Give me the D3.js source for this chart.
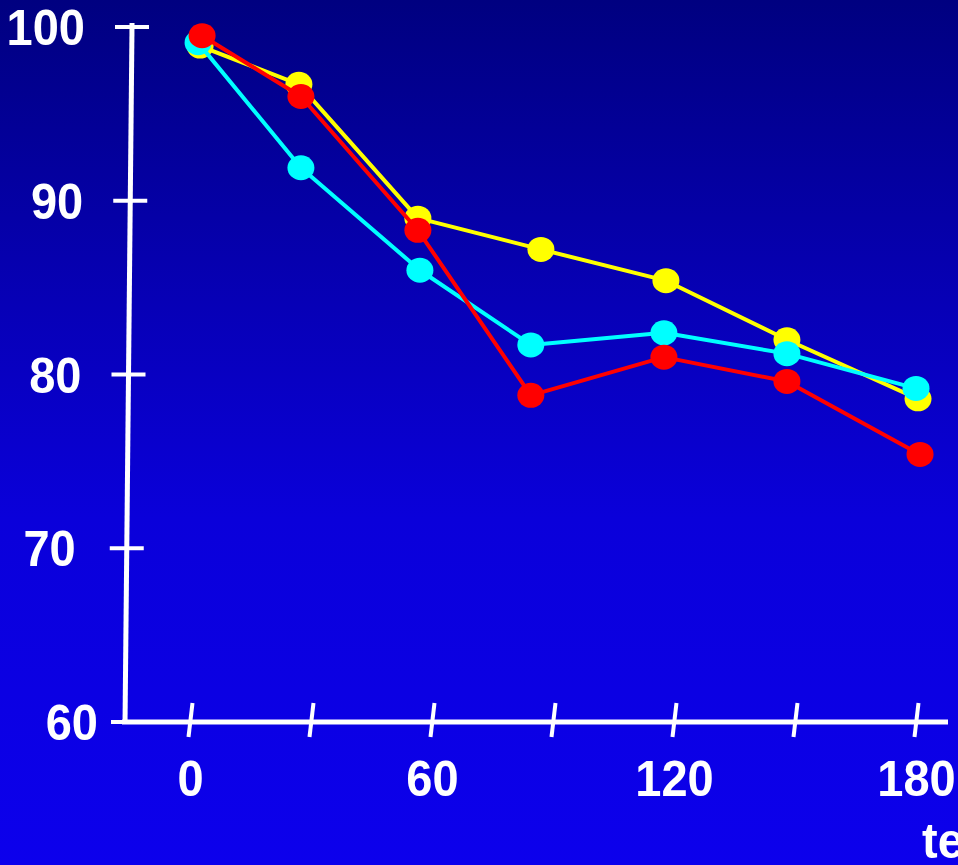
<!DOCTYPE html>
<html>
<head>
<meta charset="utf-8">
<script src="https://cdn.jsdelivr.net/npm/d3@7"></script>
<style>
  html, body { margin: 0; padding: 0; overflow: hidden; background: #0800c0; }
  svg { display: block; }
  text { font-family: "Liberation Sans", Arial, sans-serif; font-weight: bold; fill: #ffffff; }
</style>
</head>
<body>
<svg id="chart" width="958" height="865"></svg>
<script>
// ---- data ----
const xTicks = [0, 30, 60, 90, 120, 150, 180];
const xLabels = ["0", "", "60", "", "120", "", "180"];
const yTicks = [60, 70, 80, 90, 100];
const xTitle = "temps (min)";

const yellowTime = [2.5, 27, 56.5, 87, 118, 148, 180.5];
const yellowVals = [98.9, 96.7, 89.0, 87.2, 85.4, 82.0, 78.6];
const cyanTime   = [2, 27.5, 57, 84.5, 117.5, 148, 180];
const cyanVals   = [99.1, 91.9, 86.0, 81.7, 82.4, 81.2, 79.2];
const redTime    = [3, 27.5, 56.5, 84.5, 117.5, 148, 181];
const redVals    = [99.5, 96.0, 88.3, 78.8, 81.0, 79.6, 75.4];

const series = [
  { name: "yellow", color: "#ffff00", t: yellowTime, v: yellowVals },
  { name: "cyan",   color: "#00ffff", t: cyanTime,   v: cyanVals },
  { name: "red",    color: "#ff0000", t: redTime,    v: redVals }
];

// ---- setup ----
const W = 958, H = 865;
const svg = d3.select("#chart");

const defs = svg.append("defs");
const grad = defs.append("linearGradient").attr("id", "bg").attr("x1", 0).attr("y1", 0).attr("x2", 0).attr("y2", 1);
[[0, "#000080"], [0.35, "#0700b6"], [0.6, "#0a00da"], [1, "#0c00ec"]].forEach(([o, c]) =>
  grad.append("stop").attr("offset", o).attr("stop-color", c));
svg.append("rect").attr("width", W).attr("height", H).attr("fill", "url(#bg)");

const x = d3.scaleLinear().domain([0, 180]).range([190, 916]);
const y = d3.scaleLinear().domain([60, 100]).range([722, 27]);

// slanted y-axis position as function of pixel y
const yAxisX = py => 125 + (y.range()[0] - py) * (7 / (y.range()[0] - y.range()[1]));
const FS = 47, SY = 1.07;

// ---- y axis ----
const gy = svg.append("g").call(
  d3.axisLeft(y).tickValues(yTicks).tickSizeInner(0).tickSizeOuter(0).tickPadding(0).tickFormat(d3.format("d"))
);
gy.select(".domain")
  .attr("d", `M${yAxisX(y(60))},${y(60) + 2}L${yAxisX(y(100) - 4)},${y(100) - 4}`)
  .attr("stroke", "#fff").attr("stroke-width", 5).attr("fill", "none");
gy.selectAll(".tick").attr("transform", d => `translate(${yAxisX(y(d))},${y(d)})`);
gy.selectAll(".tick line")
  .attr("x1", d => d === 60 ? -14 : -17).attr("x2", d => d === 60 ? 0 : 17)
  .attr("stroke", "#fff").attr("stroke-width", 4);
gy.selectAll(".tick text")
  .attr("x", 0).attr("y", 0).attr("dy", "0.358em")
  .attr("text-anchor", "end")
  .attr("transform", d => `translate(${d === 60 ? -27 : (d === 70 ? -51 : -47)},0) scale(1,${SY})`)
  .style("font-size", FS + "px").attr("fill", "#fff");
gy.attr("font-family", null).attr("font-size", null);

// ---- x axis ----
const gx = svg.append("g").attr("transform", `translate(0,${y(60)})`).call(
  d3.axisBottom(x).tickValues(xTicks).tickSizeInner(0).tickSizeOuter(0).tickPadding(0)
    .tickFormat((d, i) => xLabels[i])
);
gx.select(".domain").attr("d", `M122,0H948`).attr("stroke", "#fff").attr("stroke-width", 5).attr("fill", "none");
gx.selectAll(".tick line")
  .attr("x1", 2).attr("y1", -19).attr("x2", -2).attr("y2", 15)
  .attr("stroke", "#fff").attr("stroke-width", 4);
gx.selectAll(".tick text")
  .attr("x", 0).attr("y", 0).attr("dy", "0.358em")
  .attr("text-anchor", "middle")
  .attr("transform", `translate(0,56) scale(1,${SY})`)
  .style("font-size", FS + "px").attr("fill", "#fff");
gx.attr("font-family", null).attr("font-size", null);

svg.append("text").attr("x", 922).attr("y", 0)
  .attr("transform", `translate(0,858) scale(1,${SY})`)
  .style("font-size", FS + "px").text(xTitle);

// ---- series ----
const line = d3.line().x(d => x(d[0])).y(d => y(d[1]));
series.forEach(s => {
  const pts = s.t.map((t, i) => [t, s.v[i]]);
  const g = svg.append("g");
  g.append("path").datum(pts).attr("d", line)
    .attr("fill", "none").attr("stroke", s.color).attr("stroke-width", 4).attr("stroke-linejoin", "round");
  g.selectAll("ellipse").data(pts).join("ellipse")
    .attr("cx", d => x(d[0])).attr("cy", d => y(d[1]))
    .attr("rx", 13.5).attr("ry", 12.5).attr("fill", s.color);
});
</script>
</body>
</html>
